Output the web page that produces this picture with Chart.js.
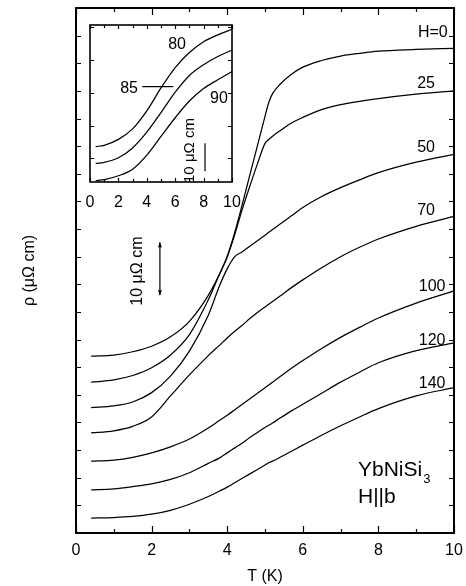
<!DOCTYPE html>
<html>
<head>
<meta charset="utf-8">
<script src="https://cdn.jsdelivr.net/npm/chart.js@4.4.1/dist/chart.umd.min.js"></script>
<style>
html,body{margin:0;padding:0;background:#fff;}
#wrap{position:relative;width:466px;height:586px;overflow:hidden;}
#main{position:absolute;left:0;top:0;}
#inset{position:absolute;left:84px;top:19px;}
</style>
</head>
<body>
<div id="wrap">
<canvas id="main" width="466" height="586"></canvas>
<canvas id="inset" width="160" height="196"></canvas>
</div>
<script>
// ---------- main panel data: temperature T (K) and resistivity (μΩ cm, arbitrary offset) ----------
const temps = [0.4, 1, 1.5, 2, 2.5, 3, 3.5, 3.8, 4, 4.2, 4.4, 4.6, 4.8, 5, 5.1, 5.2, 5.4, 5.7, 6, 6.5, 7, 7.5, 8, 9, 10];
const rhoH0   = [32.0, 32.2, 32.8, 33.8, 35.5, 38.3, 43.0, 46.9, 50.1, 54.4, 59.5, 64.8, 70.1, 75.4, 77.9, 79.5, 81.2, 83.0, 84.3, 85.5, 86.3, 86.8, 87.2, 87.5, 87.7];
const rhoH25  = [27.3, 27.7, 28.5, 29.9, 32.2, 35.9, 42.2, 46.9, 49.9, 54.0, 58.6, 62.8, 66.8, 70.5, 71.2, 71.8, 72.8, 74.2, 75.2, 76.6, 77.5, 78.1, 78.6, 79.4, 80.0];
const rhoH50  = [22.7, 23.0, 23.7, 25.4, 28.4, 32.9, 39.4, 44.8, 47.8, 50.0, 50.9, 51.9, 52.9, 53.9, 54.4, 54.9, 55.9, 57.4, 58.9, 60.9, 62.5, 63.9, 65.2, 67.1, 68.5];
const rhoH70  = [18.1, 18.5, 19.3, 21.0, 24.8, 28.6, 32.1, 34.0, 35.3, 36.5, 37.6, 38.8, 39.9, 40.9, 41.4, 41.9, 42.9, 44.4, 45.8, 48.0, 50.0, 51.7, 53.2, 55.5, 57.3];
const rhoH100 = [13.0, 13.2, 13.7, 14.5, 15.6, 17.0, 19.0, 20.4, 21.3, 22.3, 23.3, 24.3, 25.3, 26.3, 26.8, 27.3, 28.3, 29.8, 31.2, 33.4, 35.4, 37.2, 38.9, 41.6, 43.8];
const rhoH120 = [7.8, 8.0, 8.4, 8.9, 9.7, 10.9, 12.6, 13.6, 14.5, 15.4, 16.3, 17.3, 18.2, 19.1, 19.5, 19.9, 20.8, 22.1, 23.3, 25.3, 27.3, 29.1, 30.8, 33.0, 34.4];
const rhoH140 = [2.7, 2.8, 3.0, 3.4, 4.1, 5.2, 6.6, 7.6, 8.3, 9.1, 9.9, 10.7, 11.5, 12.3, 12.7, 13.0, 13.7, 14.8, 15.9, 17.7, 19.4, 21.0, 22.5, 24.8, 26.3];
const fieldLabels = ['H=0', '25', '50', '70', '100', '120', '140'];
const xTickLabels = ['0', '2', '4', '6', '8', '10'];

// ---------- inset data ----------
const insetTemps = [0.4, 1, 2, 3, 4, 5, 6, 7, 8, 9, 10];
const rhoH80 = [13.6, 14.0, 15.8, 19.0, 24.5, 31.5, 37.7, 42.3, 45.6, 47.7, 49.4];
const rhoH85 = [8.5, 8.8, 10.2, 13.2, 18.0, 24.0, 30.2, 35.3, 38.6, 41.1, 43.0];
const rhoH90 = [3.2, 3.5, 4.7, 6.7, 11.0, 16.7, 22.4, 27.5, 31.3, 34.0, 36.5];
const insetLabels = ['80', '85', '90'];

const FONT = '"Liberation Sans", Arial, Helvetica, sans-serif';

function pts(xs, ys) { return xs.map((t, i) => ({x: t, y: ys[i]})); }
function lineSet(xs, ys, label) {
  return {label, data: pts(xs, ys), borderColor: '#000', borderWidth: 1.25, pointRadius: 0,
          fill: false, cubicInterpolationMode: 'monotone', clip: false};
}

// draws frame, inward ticks and text annotations using the chart's scales
const decor = {
  id: 'decor',
  afterDatasetsDraw(chart, args, o) {
    const {ctx, chartArea: a, scales: {x, y}} = chart;
    ctx.save();
    ctx.strokeStyle = '#000';
    ctx.fillStyle = '#000';
    ctx.lineWidth = o.frameWidth;
    ctx.strokeRect(a.left, a.top, a.right - a.left, a.bottom - a.top);
    ctx.lineWidth = 1.2;
    ctx.beginPath();
    const nx = Math.round((o.xMax - o.xMin) / o.xStep);
    for (let i = 0; i <= nx; i++) {
      const v = o.xMin + i * o.xStep;
      const px = Math.round(x.getPixelForValue(v)) + 0.5;
      const len = (i % o.xMajorEvery === 0) ? o.majorLen : o.minorLen;
      ctx.moveTo(px, a.bottom); ctx.lineTo(px, a.bottom - len);
      ctx.moveTo(px, a.top); ctx.lineTo(px, a.top + len);
    }
    o.yTicks.forEach(v => {
      const py = Math.round(y.getPixelForValue(v)) + 0.5;
      ctx.moveTo(a.left, py); ctx.lineTo(a.left + o.yLen, py);
      ctx.moveTo(a.right, py); ctx.lineTo(a.right - o.yLen, py);
    });
    ctx.stroke();
    (o.notes || []).forEach(n => {
      const px = x.getPixelForValue(n.x), py = y.getPixelForValue(n.y);
      ctx.save();
      ctx.translate(px, py);
      if (n.rot) ctx.rotate(n.rot);
      ctx.font = (n.size || 16) + 'px ' + FONT;
      ctx.textAlign = n.align || 'center';
      ctx.textBaseline = 'middle';
      ctx.fillText(n.text, 0, 0);
      if (n.sub) {
        const w = ctx.measureText(n.text).width;
        ctx.font = Math.round((n.size || 16) * 0.62) + 'px ' + FONT;
        ctx.textAlign = 'left';
        ctx.fillText(n.sub, (n.align === 'left' ? w : w / 2) + 1, (n.size || 16) * 0.45);
      }
      ctx.restore();
    });
    (o.segs || []).forEach(s => {
      const x1 = x.getPixelForValue(s.x1), y1 = y.getPixelForValue(s.y1);
      const x2 = x.getPixelForValue(s.x2), y2 = y.getPixelForValue(s.y2);
      ctx.lineWidth = s.w || 1.2;
      ctx.beginPath(); ctx.moveTo(x1, y1); ctx.lineTo(x2, y2); ctx.stroke();
      if (s.arrows) {
        const h = 5, hw = 2;
        ctx.beginPath();
        ctx.moveTo(x1, y1); ctx.lineTo(x1 - hw, y1 + h); ctx.lineTo(x1 + hw, y1 + h); ctx.closePath();
        ctx.moveTo(x2, y2); ctx.lineTo(x2 - hw, y2 - h); ctx.lineTo(x2 + hw, y2 - h); ctx.closePath();
        ctx.fill();
      }
    });
    ctx.restore();
  }
};

const mainYTicks = Array.from({length: 19}, (_, i) => (i + 1) * 5);

new Chart(document.getElementById('main'), {
  type: 'line',
  data: {datasets: [
    lineSet(temps, rhoH0, fieldLabels[0]),
    lineSet(temps, rhoH25, fieldLabels[1]),
    lineSet(temps, rhoH50, fieldLabels[2]),
    lineSet(temps, rhoH70, fieldLabels[3]),
    lineSet(temps, rhoH100, fieldLabels[4]),
    lineSet(temps, rhoH120, fieldLabels[5]),
    lineSet(temps, rhoH140, fieldLabels[6])
  ]},
  options: {
    responsive: false, animation: false, devicePixelRatio: 1,
    layout: {padding: {top: 8, right: 12, bottom: 0, left: 0}},
    plugins: {
      legend: {display: false}, tooltip: {enabled: false},
      decor: {
        frameWidth: 2, xMin: 0, xMax: 10, xStep: 1, xMajorEvery: 2, majorLen: 7, minorLen: 4,
        yTicks: mainYTicks, yLen: 5,
        notes: [
          {text: fieldLabels[0], x: 9.44, y: 90.5},
          {text: fieldLabels[1], x: 9.26, y: 81.4},
          {text: fieldLabels[2], x: 9.26, y: 69.7},
          {text: fieldLabels[3], x: 9.26, y: 58.3},
          {text: fieldLabels[4], x: 9.42, y: 44.5},
          {text: fieldLabels[5], x: 9.42, y: 34.9},
          {text: fieldLabels[6], x: 9.42, y: 27.1},
          {text: 'YbNiSi', sub: '3', x: 7.46, y: 11.4, align: 'left', size: 21},
          {text: 'H||b', x: 7.46, y: 6.5, align: 'left', size: 21},
          {text: '10 μΩ cm', x: 1.64, y: 47.4, rot: -Math.PI / 2, size: 16}
        ],
        segs: [{x1: 2.22, y1: 52.6, x2: 2.22, y2: 43.0, arrows: true}]
      }
    },
    scales: {
      x: {
        type: 'linear', min: 0, max: 10,
        grid: {display: false, drawTicks: false}, border: {display: false},
        ticks: {stepSize: 2, padding: 8, color: '#000', font: {family: FONT, size: 16}, maxRotation: 0, autoSkip: false,
                callback: (v) => xTickLabels[Math.round(v / 2)]},
        title: {display: true, text: 'T (K)', color: '#000', font: {family: FONT, size: 16}, padding: {top: 0, bottom: 0}},
        afterFit(s) { s.height = 53; s.paddingLeft = 0; s.paddingRight = 0; }
      },
      y: {
        type: 'linear', min: 0, max: 95,
        grid: {display: false, drawTicks: false}, border: {display: false},
        ticks: {display: false},
        title: {display: true, text: 'ρ (μΩ cm)', color: '#000', font: {family: FONT, size: 16}, padding: {top: 20, bottom: 0}},
        afterFit(s) { s.width = 76; s.paddingTop = 0; s.paddingBottom = 0; }
      }
    }
  },
  plugins: [decor]
});

new Chart(document.getElementById('inset'), {
  type: 'line',
  data: {datasets: [
    lineSet(insetTemps, rhoH80, insetLabels[0]),
    lineSet(insetTemps, rhoH85, insetLabels[1]),
    lineSet(insetTemps, rhoH90, insetLabels[2])
  ]},
  options: {
    responsive: false, animation: false, devicePixelRatio: 1,
    layout: {padding: {top: 6, right: 12, bottom: 0, left: 0}},
    plugins: {
      legend: {display: false}, tooltip: {enabled: false},
      decor: {
        frameWidth: 1.6, xMin: 0, xMax: 10, xStep: 1, xMajorEvery: 2, majorLen: 4, minorLen: 3,
        yTicks: [10, 20, 30, 40, 50], yLen: 4,
        notes: [
          {text: insetLabels[0], x: 6.13, y: 44.6},
          {text: insetLabels[1], x: 2.75, y: 31.4},
          {text: insetLabels[2], x: 9.08, y: 28.3},
          {text: '10 μΩ cm', x: 7.04, y: 12.4, rot: -Math.PI / 2, size: 15}
        ],
        segs: [
          {x1: 3.68, y1: 31.9, x2: 5.87, y2: 31.9},
          {x1: 8.1, y1: 14.6, x2: 8.1, y2: 6.1}
        ]
      }
    },
    scales: {
      x: {
        type: 'linear', min: 0, max: 10,
        grid: {display: false, drawTicks: false}, border: {display: false},
        ticks: {stepSize: 2, padding: 11, color: '#000', font: {family: FONT, size: 16}, maxRotation: 0, autoSkip: false,
                callback: (v) => xTickLabels[Math.round(v / 2)]},
        afterFit(s) { s.height = 33; s.paddingLeft = 0; s.paddingRight = 0; }
      },
      y: {
        type: 'linear', min: 2.8, max: 50.7,
        grid: {display: false, drawTicks: false}, border: {display: false},
        ticks: {display: false},
        afterFit(s) { s.width = 6; s.paddingTop = 0; s.paddingBottom = 0; }
      }
    }
  },
  plugins: [decor]
});
</script>
</body>
</html>
